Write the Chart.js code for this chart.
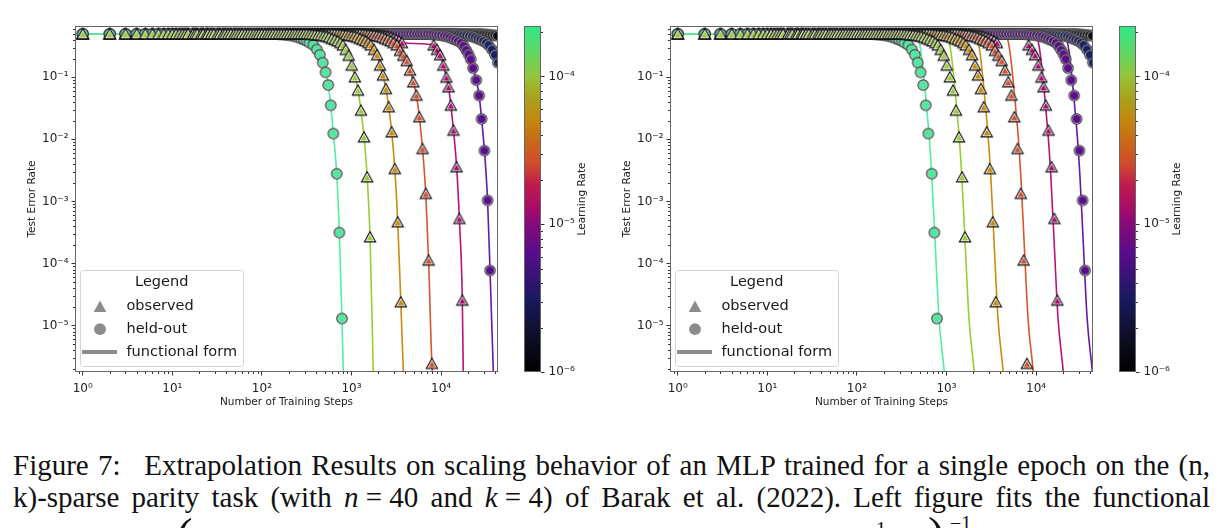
<!DOCTYPE html>
<html><head><meta charset="utf-8">
<script src="https://cdn.jsdelivr.net/npm/chart.js@4.4.1/dist/chart.umd.min.js"></script>
<style>
html,body{margin:0;padding:0;background:#fff}
body{position:relative;width:1222px;height:528px;overflow:hidden}
canvas{position:absolute;top:0}
.cap{position:absolute;left:13px;width:1197px;font-family:"Liberation Serif",serif;font-size:29px;line-height:32px;color:#111;text-align:justify;text-align-last:justify}
.frag{position:absolute;font-family:"Liberation Serif",serif;color:#111;line-height:1;white-space:nowrap}
</style></head><body>
<canvas id="leftPlot" width="505" height="420" style="left:0"></canvas>
<canvas id="leftBar" width="85" height="420" style="left:515px"></canvas>
<canvas id="rightPlot" width="505" height="420" style="left:595px"></canvas>
<canvas id="rightBar" width="85" height="420" style="left:1110px"></canvas>
<div class="cap" style="top:449px">Figure 7:&#8194; Extrapolation Results on scaling behavior of an MLP trained for a single epoch on the (n,</div>
<div class="cap" style="top:481px">k)-sparse parity task (with <i>n</i>&#8197;=&#8197;40 and <i>k</i>&#8197;=&#8197;4) of Barak et al. (2022). Left figure fits the functional</div>
<span class="frag" style="left:176px;top:511px;font-size:50px">(</span>
<span class="frag" style="left:876px;top:519px;font-size:20px">1</span>
<span class="frag" style="left:928px;top:510px;font-size:50px">)</span>
<span class="frag" style="left:950px;top:513px;font-size:20px">&#8722;1</span>
<script>
// ---------------- data ----------------
const steps = [1,2,3,4,5,6,7,8,9,10,11,12,13,14,15,17,18,19,21,22,24,25,27,29,32,34,37,39,42,45,49,52,56,60,65,70,75,81,87,93,
100,108,116,124,133,143,154,165,178,191,205,221,237,255,274,294,316,340,365,392,422,453,487,523,562,604,649,698,750,806,866,931,
1000,1075,1155,1241,1334,1433,1540,1655,1778,1911,2054,2207,2371,2548,2738,2943,3162,3398,3652,3924,4217,4532,4870,5233,5623,6043,6494,6978,7499,8058,8660,9306,
10000,10750,11550,12410,13340,14330,15400,16550,17780,19110,20540,22070,23710,25480,27380,29430,31620,33980,36520,39240,42170];

const learningRates = [1.5625e-6, 3.125e-6, 6.25e-6, 1.25e-5, 2.5e-5, 5e-5, 1e-4, 2e-4];

// test error at the shared steps (plateau and early droop)
const errBlack = [
0.5,0.5,0.5,0.5,0.5,0.5,0.5,0.5,0.5,0.5, 0.5,0.5,0.5,0.5,0.5,0.5,0.5,0.5,0.5,0.5,
0.5,0.5,0.5,0.5,0.5,0.5,0.5,0.5,0.5,0.5, 0.5,0.5,0.5,0.5,0.5,0.5,0.5,0.5,0.5,0.5,
0.5,0.5,0.5,0.5,0.5,0.5,0.5,0.5,0.5,0.5, 0.5,0.5,0.5,0.5,0.5,0.5,0.5,0.5,0.5,0.5,
0.5,0.5,0.5,0.5,0.5,0.5,0.5,0.5,0.5,0.5, 0.5,0.5,0.5,0.5,0.5,0.5,0.5,0.5,0.5,0.5,
0.5,0.5,0.5,0.5,0.5,0.5,0.5,0.5,0.5,0.5, 0.5,0.5,0.5,0.5,0.5,0.5,0.5,0.5,0.5,0.5,
0.5,0.5,0.5,0.5,0.5,0.5,0.5,0.5,0.5,0.5, 0.5,0.5,0.5,0.5,0.5,0.5,0.5,0.5,0.5,
0.495,0.49,0.485,0.48,0.475,0.465];
const errNavy = [
0.5,0.5,0.5,0.5,0.5,0.5,0.5,0.5,0.5,0.5, 0.5,0.5,0.5,0.5,0.5,0.5,0.5,0.5,0.5,0.5,
0.5,0.5,0.5,0.5,0.5,0.5,0.5,0.5,0.5,0.5, 0.5,0.5,0.5,0.5,0.5,0.5,0.5,0.5,0.5,0.5,
0.5,0.5,0.5,0.5,0.5,0.5,0.5,0.5,0.5,0.5, 0.5,0.5,0.5,0.5,0.5,0.5,0.5,0.5,0.5,0.5,
0.5,0.5,0.5,0.5,0.5,0.5,0.5,0.5,0.5,0.5, 0.5,0.5,0.5,0.5,0.5,0.5,0.5,0.5,0.5,0.5,
0.5,0.5,0.5,0.5,0.5,0.5,0.5,0.5,0.5,0.5, 0.5,0.5,0.5,0.5,0.5,0.5,0.5,0.5,0.5,0.5,
0.5,0.5,0.5,0.5,0.5,0.5,0.5,0.5,0.5,
0.495,0.49,0.485,0.48,0.475,0.465,0.455,0.44,0.42,0.405,0.385,0.36];
const errPurple = [
0.5,0.5,0.5,0.5,0.5,0.5,0.5,0.5,0.5,0.5, 0.5,0.5,0.5,0.5,0.5,0.5,0.5,0.5,0.5,0.5,
0.5,0.5,0.5,0.5,0.5,0.5,0.5,0.5,0.5,0.5, 0.5,0.5,0.5,0.5,0.5,0.5,0.5,0.5,0.5,0.5,
0.5,0.5,0.5,0.5,0.5,0.5,0.5,0.5,0.5,0.5, 0.5,0.5,0.5,0.5,0.5,0.5,0.5,0.5,0.5,0.5,
0.5,0.5,0.5,0.5,0.5,0.5,0.5,0.5,0.5,0.5, 0.5,0.5,0.5,0.5,0.5,0.5,0.5,0.5,0.5,0.5,
0.5,0.5,0.5,0.5,0.5,0.5,0.5,0.5,0.5,0.5, 0.5,0.5,0.5,0.5,0.5,0.5,0.5,0.5,0.5,0.5,
0.495,0.49,0.485,0.48,0.475,0.465,0.455,0.44,0.42,0.405,0.385];
const errMagenta = [
0.5,0.5,0.5,0.5,0.5,0.5,0.5,0.5,0.5,0.5, 0.5,0.5,0.5,0.5,0.5,0.5,0.5,0.5,0.5,0.5,
0.5,0.5,0.5,0.5,0.5,0.5,0.5,0.5,0.5,0.5, 0.5,0.5,0.5,0.5,0.5,0.5,0.5,0.5,0.5,0.5,
0.5,0.5,0.5,0.5,0.5,0.5,0.5,0.5,0.5,0.5, 0.5,0.5,0.5,0.5,0.5,0.5,0.5,0.5,0.5,0.5,
0.5,0.5,0.5,0.5,0.5,0.5,0.5,0.5,0.5,0.5, 0.5,0.5,0.5,0.5,0.5,0.5,0.5,0.5,0.5,
0.495,0.49,0.485,0.48,0.475,0.465,0.455,0.44,0.42,0.405,0.385,0.36];
const errRed = [
0.5,0.5,0.5,0.5,0.5,0.5,0.5,0.5,0.5,0.5, 0.5,0.5,0.5,0.5,0.5,0.5,0.5,0.5,0.5,0.5,
0.5,0.5,0.5,0.5,0.5,0.5,0.5,0.5,0.5,0.5, 0.5,0.5,0.5,0.5,0.5,0.5,0.5,0.5,0.5,0.5,
0.5,0.5,0.5,0.5,0.5,0.5,0.5,0.5,0.5,0.5, 0.5,0.5,0.5,0.5,0.5,0.5,0.5,0.5,0.5,0.5,
0.5,0.5,0.5,0.5,0.5,0.5,0.5,0.5,0.5,0.5, 0.5,0.5,0.5,0.5,0.5,0.5,
0.495,0.49,0.485,0.48,0.475,0.465,0.455,0.44,0.42,0.405,0.385,0.36];
const errOrange = [
0.5,0.5,0.5,0.5,0.5,0.5,0.5,0.5,0.5,0.5, 0.5,0.5,0.5,0.5,0.5,0.5,0.5,0.5,0.5,0.5,
0.5,0.5,0.5,0.5,0.5,0.5,0.5,0.5,0.5,0.5, 0.5,0.5,0.5,0.5,0.5,0.5,0.5,0.5,0.5,0.5,
0.5,0.5,0.5,0.5,0.5,0.5,0.5,0.5,0.5,0.5, 0.5,0.5,0.5,0.5,0.5,0.5,0.5,0.5,0.5,0.5,
0.5,0.5,0.5,0.5,0.5,0.5,0.5,
0.495,0.49,0.485,0.48,0.475,0.465,0.455,0.44,0.42,0.405,0.385,0.36];
const errYellow = [
0.5,0.5,0.5,0.5,0.5,0.5,0.5,0.5,0.5,0.5, 0.5,0.5,0.5,0.5,0.5,0.5,0.5,0.5,0.5,0.5,
0.5,0.5,0.5,0.5,0.5,0.5,0.5,0.5,0.5,0.5, 0.5,0.5,0.5,0.5,0.5,0.5,0.5,0.5,0.5,0.5,
0.5,0.5,0.5,0.5,0.5,0.5,0.5,0.5,0.5,0.5, 0.5,0.5,0.5,0.5,0.5,0.5,0.5,
0.495,0.49,0.485,0.48,0.475,0.465,0.455,0.44,0.42,0.405,0.385,0.36];
const errGreen = [
0.5,0.5,0.5,0.5,0.5,0.5,0.5,0.5,0.5,0.5, 0.5,0.5,0.5,0.5,0.5,0.5,0.5,0.5,0.5,0.5,
0.5,0.5,0.5,0.5,0.5,0.5,0.5,0.5,0.5,0.5, 0.5,0.5,0.5,0.5,0.5,0.5,0.5,0.5,0.5,0.5,
0.5,0.5,0.5,0.5,0.5,0.5,
0.495,0.49,0.485,0.48,0.475,0.465,0.455,0.44,0.42,0.405,0.385,0.36];

// steep part of each run: [step, test error]
const dropBlack = [];
const dropNavy = [[33750,0.33],[36900,0.28],[39900,0.23],[43000,0.172]];
const dropPurple = [[16600,0.36],[17800,0.32],[19000,0.275],[20200,0.235],[21400,0.195],[22700,0.14],[24700,0.0898],[26600,0.0507],[28300,0.0213],[30450,0.00658],[33000,0.00104],[35150,7.74e-5]];
const dropMagenta = [[8250,0.33],[9020,0.28],[9750,0.23],[10590,0.156],[11450,0.1],[12100,0.0698],[12850,0.0354],[13750,0.014],[14900,0.0036],[15980,5.3e-4],[17250,2.56e-5]];
const dropRed = [[3200,0.33],[3480,0.27],[3790,0.225],[4130,0.185],[4500,0.13],[4890,0.084],[5300,0.0513],[5720,0.023],[6200,0.00708],[6740,0.00134],[7250,1.13e-4],[7890,2.45e-6]];
const dropOrange = [[1635,0.33],[1788,0.28],[1931,0.23],[2080,0.156],[2240,0.108],[2420,0.0655],[2600,0.0333],[2810,0.01315],[3040,0.00337],[3280,4.68e-4],[3550,2.41e-5]];
const dropYellow = [[800,0.33],[862,0.28],[930,0.225],[1005,0.156],[1090,0.101],[1180,0.0618],[1275,0.0294],[1380,0.0109],[1495,0.00248],[1610,2.68e-4]];
const dropGreen = [[375,0.33],[410,0.28],[443,0.23],[477,0.172],[514,0.12],[550,0.075],[586,0.0354],[627,0.0124],[684,0.0028],[731,3.15e-4],[783,1.3e-5]];

// left panel: fitted form continues past the last observation
const tailLeftBlack = [[46000,0.46]];
const tailLeftNavy = [[46000,0.13]];
const tailLeftPurple = [[38800,1e-6]];
const tailLeftMagenta = [[17760,1e-6]];
const tailLeftRed = [[8350,1e-6]];
const tailLeftOrange = [[3844,1e-6]];
const tailLeftYellow = [[1766,1e-6]];
const tailLeftGreen = [[817,1e-6]];

// right panel: fitted functional form
const fitRightBlack = [[1,0.5],[36000,0.497],[54000,0.49]];
const fitRightNavy = [[1,0.5],[18000,0.497],[27000,0.49],[34200,0.478],[40050,0.46],[44100,0.40]];
const fitRightPurple = [[1,0.5],[9000,0.497],[13500,0.49],[17100,0.478],[20025,0.46],[22050,0.40],[23400,0.25],[24660,0.13],[25875,0.065],[27045,0.032],[28800,0.0115],[30780,0.0027],[33210,3.1e-4],[37125,1.3e-5],[42525,1.75e-6],[45450,5e-7]];
const fitRightMagenta = [[1,0.5],[4260,0.497],[6390,0.49],[8094,0.478],[9479,0.46],[10437,0.40],[11076,0.25],[11672,0.13],[12248,0.065],[12801,0.032],[13632,0.0115],[14569,0.0027],[15719,3.1e-4],[17573,1.3e-5],[20129,1.75e-6],[21513,5e-7]];
const fitRightRed = [[1,0.5],[1970,0.497],[2955,0.49],[3743,0.478],[4383,0.46],[4827,0.40],[5122,0.25],[5398,0.13],[5664,0.065],[5920,0.032],[6304,0.0115],[6737,0.0027],[7269,3.1e-4],[8126,1.3e-5],[9308,1.75e-6],[9949,5e-7]];
const fitRightOrange = [[1,0.5],[910,0.497],[1365,0.49],[1729,0.478],[2025,0.46],[2230,0.40],[2366,0.25],[2493,0.13],[2616,0.065],[2735,0.032],[2912,0.0115],[3112,0.0027],[3358,3.1e-4],[3754,1.3e-5],[4300,1.75e-6],[4596,5e-7]];
const fitRightYellow = [[1,0.5],[432,0.497],[648,0.49],[821,0.478],[961,0.46],[1058,0.40],[1123,0.25],[1184,0.13],[1242,0.065],[1298,0.032],[1382,0.0115],[1477,0.0027],[1594,3.1e-4],[1782,1.3e-5],[2041,1.75e-6],[2182,5e-7]];
const fitRightGreen = [[1,0.5],[200,0.497],[300,0.49],[380,0.478],[445,0.46],[490,0.40],[520,0.25],[548,0.13],[575,0.065],[601,0.032],[640,0.0115],[684,0.0027],[738,3.1e-4],[825,1.3e-5],[945,1.75e-6],[1010,5e-7]];

// axes
const xTickValues = [1,10,100,1000,10000];
const xTickLabels = ['10\u2070','10\u00b9','10\u00b2','10\u00b3','10\u2074'];
const yTickValues = [1e-5,1e-4,1e-3,1e-2,1e-1];
const yTickLabels = ['10\u207b\u2075','10\u207b\u2074','10\u207b\u00b3','10\u207b\u00b2','10\u207b\u00b9'];
const cbTickValues = [1e-6,1e-5,1e-4];
const cbTickLabels = ['10\u207b\u2076','10\u207b\u2075','10\u207b\u2074'];
const xRange = [0.82, 43150];
const yRange = [1.79e-6, 0.67];
const cbRange = [1e-6, 2.2e-4];
const xTitle = 'Number of Training Steps';
const yTitle = 'Test Error Rate';
const cbTitle = 'Learning Rate';
const legendTitle = 'Legend';
const legendLabels = ['observed','held-out','functional form'];

// ---------------- styles ----------------
const series = [
  {err: errBlack,   drop: dropBlack,   tail: tailLeftBlack,   fitR: fitRightBlack,   shape:'circle', fill:'#0c0c16', line:'#15152c', lineOrder:28, markOrder:18},
  {err: errNavy,    drop: dropNavy,    tail: tailLeftNavy,    fitR: fitRightNavy,    shape:'circle', fill:'#1b1f66', line:'#1f2472', lineOrder:27, markOrder:17},
  {err: errPurple,  drop: dropPurple,  tail: tailLeftPurple,  fitR: fitRightPurple,  shape:'circle', fill:'#5b0c8f', line:'#6a18a6', lineOrder:26, markOrder:16},
  {err: errMagenta, drop: dropMagenta, tail: tailLeftMagenta, fitR: fitRightMagenta, shape:'tri',    fill:'#a80c6c', line:'#b8137c', lineOrder:25, markOrder:15},
  {err: errRed,     drop: dropRed,     tail: tailLeftRed,     fitR: fitRightRed,     shape:'tri',    fill:'#d24e2c', line:'#d9552e', lineOrder:24, markOrder:14},
  {err: errOrange,  drop: dropOrange,  tail: tailLeftOrange,  fitR: fitRightOrange,  shape:'tri',    fill:'#c98a0c', line:'#cc8a10', lineOrder:23, markOrder:13},
  {err: errYellow,  drop: dropYellow,  tail: tailLeftYellow,  fitR: fitRightYellow,  shape:'tri',    fill:'#9cc93a', line:'#9acd32', lineOrder:22, markOrder:5},
  {err: errGreen,   drop: dropGreen,   tail: tailLeftGreen,   fitR: fitRightGreen,   shape:'circle', fill:'#4fe8a0', line:'#55eda5', lineOrder:21, markOrder:12}
];
const cmapStops = [[0,'#000000'],[0.083,'#0b0c1c'],[0.21,'#181a5e'],[0.34,'#560c8c'],[0.43,'#860a78'],[0.47,'#a50c6a'],[0.54,'#bf1a4c'],[0.6,'#d04a2e'],[0.66,'#c8661a'],[0.725,'#c4860c'],[0.79,'#aaa01c'],[0.854,'#94c43a'],[0.93,'#5cd868'],[1,'#2ee888']];

Chart.defaults.font.family = '"DejaVu Sans", sans-serif';
Chart.defaults.color = '#222';
const tickFont = {size: 12};
const titleFont = {size: 10.5};
const legendFont = '14.5px "DejaVu Sans"';

function markerImage(shape, fill) {
  const c = document.createElement('canvas');
  c.width = 16; c.height = 16;
  const g = c.getContext('2d');
  if (shape === 'tri') {
    const tri = (s, dy) => { g.beginPath(); g.moveTo(8, 8 - 5.2*s + dy); g.lineTo(8 + 5.6*s, 8 + 4.8*s + dy); g.lineTo(8 - 5.6*s, 8 + 4.8*s + dy); g.closePath(); };
    tri(1, 0); g.fillStyle = 'rgba(255,255,255,0.95)'; g.fill(); g.lineWidth = 1.15; g.strokeStyle = '#111'; g.stroke();
    tri(0.6, 0.55); g.fillStyle = fill; g.fill();
  } else {
    g.beginPath(); g.arc(8, 8, 5.2, 0, Math.PI*2); g.fillStyle = '#e6e6e6'; g.fill(); g.lineWidth = 1.15; g.strokeStyle = '#333'; g.stroke();
    g.beginPath(); g.arc(8, 8, 4.0, 0, Math.PI*2); g.fillStyle = fill; g.fill();
  }
  return c;
}

function markerPoints(s) {
  const pts = s.err.map((y, i) => ({x: steps[i], y}));
  s.drop.forEach(([x, y]) => pts.push({x, y}));
  return pts;
}
const toPts = arr => arr.map(([x, y]) => ({x, y}));

function minorPixels(scale) {
  const out = [];
  const lo = Math.floor(Math.log10(scale.min)), hi = Math.ceil(Math.log10(scale.max));
  for (let e = lo; e <= hi; e++) for (let m = 2; m <= 9; m++) {
    const v = m * Math.pow(10, e);
    if (v > scale.min && v < scale.max) out.push(scale.getPixelForValue(v));
  }
  return out;
}

const axesDecor = {
  id: 'axesDecor',
  afterDatasetsDraw(chart) {
    const {ctx, chartArea: a} = chart;
    ctx.save();
    ctx.strokeStyle = '#333'; ctx.lineWidth = 1;
    ctx.beginPath();
    minorPixels(chart.scales.x).forEach(p => { const q = Math.round(p) + 0.5; ctx.moveTo(q, a.bottom); ctx.lineTo(q, a.bottom + 2); });
    minorPixels(chart.scales.y).forEach(p => { const q = Math.round(p) + 0.5; ctx.moveTo(a.left - 2, q); ctx.lineTo(a.left, q); });
    ctx.stroke();
    ctx.strokeStyle = '#666';
    ctx.strokeRect(Math.round(a.left) + 0.5, Math.round(a.top) + 0.5, Math.round(a.right - a.left) - 1, Math.round(a.bottom - a.top) - 1);
    ctx.restore();
  },
  afterDraw(chart) {
    const ctx = chart.ctx;
    ctx.save();
    ctx.beginPath();
    if (ctx.roundRect) ctx.roundRect(80.5, 270.5, 163, 96, 3); else ctx.rect(80.5, 270.5, 163, 96);
    ctx.fillStyle = 'rgba(255,255,255,0.85)'; ctx.fill();
    ctx.strokeStyle = '#d4d4d4'; ctx.lineWidth = 1; ctx.stroke();
    ctx.fillStyle = '#1a1a1a'; ctx.font = legendFont; ctx.textBaseline = 'middle';
    ctx.textAlign = 'center'; ctx.fillText(legendTitle, 161.7, 282);
    ctx.textAlign = 'left';
    legendLabels.forEach((t, i) => ctx.fillText(t, 126.5, 306.5 + i * 22.7));
    ctx.fillStyle = '#8c8c8c';
    ctx.beginPath(); ctx.moveTo(100, 300.5); ctx.lineTo(106.3, 312); ctx.lineTo(93.7, 312); ctx.closePath(); ctx.fill();
    ctx.beginPath(); ctx.arc(100, 329.2, 5.9, 0, Math.PI * 2); ctx.fill();
    ctx.strokeStyle = '#8c8c8c'; ctx.lineWidth = 4;
    ctx.beginPath(); ctx.moveTo(82, 352); ctx.lineTo(117, 352); ctx.stroke();
    ctx.restore();
  }
};

function logAxis(range, tickVals, tickLabels, title, extra) {
  return Object.assign({
    type: 'logarithmic', min: range[0], max: range[1], bounds: 'data',
    afterBuildTicks: s => { s.ticks = tickVals.map(v => ({value: v})); },
    ticks: {font: tickFont, autoSkip: false, maxRotation: 0, color: '#222', callback: (v, i) => tickLabels[i]},
    grid: {drawOnChartArea: false, drawTicks: true, tickLength: 3.5, color: '#333'},
    border: {display: false},
    title: {display: !!title, text: title, font: titleFont, padding: 0, color: '#222'}
  }, extra);
}

function makePlot(id, lineFor) {
  const datasets = [];
  series.forEach(s => {
    datasets.push({data: lineFor(s), showLine: true, pointRadius: 0, borderColor: s.line, borderWidth: 1.6,
      cubicInterpolationMode: 'monotone', order: s.lineOrder, clip: 0});
  });
  series.forEach(s => {
    datasets.push({data: markerPoints(s), showLine: false, pointStyle: markerImage(s.shape, s.fill), pointRadius: 5,
      order: s.markOrder, clip: 0});
  });
  const x = logAxis(xRange, xTickValues, xTickLabels, xTitle, {afterFit: s => { s.height = 37; }});
  x.ticks.padding = 6.5;
  const y = logAxis(yRange, yTickValues, yTickLabels, yTitle, {afterFit: s => { s.width = 49; }});
  y.ticks.padding = 3;
  return new Chart(document.getElementById(id), {
    type: 'scatter',
    data: {datasets},
    options: {
      responsive: false, animation: false, devicePixelRatio: 1, events: [],
      layout: {padding: {left: 26, right: 7, top: 26, bottom: 11}, autoPadding: false},
      elements: {line: {capBezierPoints: false}},
      plugins: {legend: {display: false}, tooltip: {enabled: false}},
      scales: {x, y}
    },
    plugins: [axesDecor]
  });
}

const colorbarDecor = {
  id: 'colorbarDecor',
  afterDatasetsDraw(chart) {
    const {ctx, chartArea: a} = chart;
    ctx.save();
    ctx.strokeStyle = '#333'; ctx.lineWidth = 1;
    ctx.beginPath();
    minorPixels(chart.scales.y).forEach(p => { const q = Math.round(p) + 0.5; ctx.moveTo(a.right, q); ctx.lineTo(a.right + 2, q); });
    ctx.stroke();
    ctx.strokeStyle = '#666';
    ctx.strokeRect(Math.round(a.left) + 0.5, Math.round(a.top) + 0.5, Math.round(a.right - a.left) - 1, Math.round(a.bottom - a.top) - 1);
    ctx.translate(67.5, (a.top + a.bottom) / 2);
    ctx.rotate(-Math.PI / 2);
    ctx.fillStyle = '#222'; ctx.font = '10.5px "DejaVu Sans"';
    ctx.textAlign = 'center'; ctx.textBaseline = 'middle';
    ctx.fillText(cbTitle, 0, 0);
    ctx.restore();
  }
};

function makeColorbar(id) {
  const y = logAxis(cbRange, cbTickValues, cbTickLabels, '', {position: 'right', afterFit: s => { s.width = 59; }});
  y.ticks.padding = 4;
  return new Chart(document.getElementById(id), {
    type: 'bar',
    data: {labels: ['lr'], datasets: [{
      data: [[cbRange[0], cbRange[1]]], borderWidth: 0, barPercentage: 1, categoryPercentage: 1,
      backgroundColor: c => {
        const a = c.chart.chartArea;
        if (!a) return '#000';
        const g = c.chart.ctx.createLinearGradient(0, a.bottom, 0, a.top);
        cmapStops.forEach(([f, col]) => g.addColorStop(f, col));
        return g;
      }
    }]},
    options: {
      responsive: false, animation: false, devicePixelRatio: 1, events: [],
      layout: {padding: {left: 9, right: 0, top: 26, bottom: 48}, autoPadding: false},
      plugins: {legend: {display: false}, tooltip: {enabled: false}},
      scales: {x: {display: false}, y}
    },
    plugins: [colorbarDecor]
  });
}

makePlot('leftPlot', s => markerPoints(s).concat(toPts(s.tail)));
makeColorbar('leftBar');
makePlot('rightPlot', s => toPts(s.fitR));
makeColorbar('rightBar');
</script>
</body></html>
